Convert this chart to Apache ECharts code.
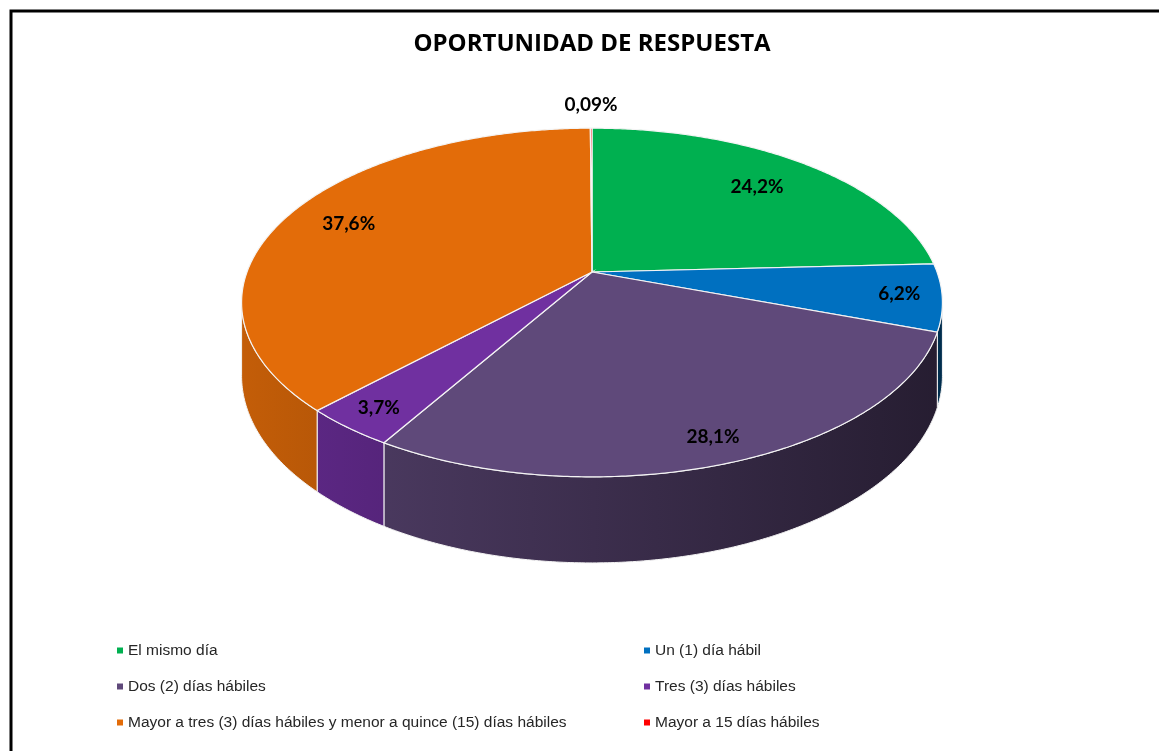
<!DOCTYPE html>
<html>
<head>
<meta charset="utf-8">
<script src="https://cdn.jsdelivr.net/npm/echarts@6/dist/echarts.min.js"></script>
<style>
  html, body { margin: 0; padding: 0; background: #ffffff; }
  #chart { width: 1159px; height: 751px; }
</style>
</head>
<body>
<div id="chart"></div>
<script>
// ---- Data ----
const categories = [
  'El mismo día',
  'Un (1) día hábil',
  'Dos (2) días hábiles',
  'Tres (3) días hábiles',
  'Mayor a tres (3) días hábiles y menor a quince (15) días hábiles',
  'Mayor a 15 días hábiles'
];
const values = [24.2, 6.2, 28.1, 3.7, 37.6, 0.09];
const colors = ['#00b050', '#0070c0', '#5f497a', '#7030a0', '#e36c09', '#ff0000'];
const titleText = 'OPORTUNIDAD DE RESPUESTA';

// ---- Layout (3D pie projection) ----
const CX = 592, CY = 272;      // apex of the pie top face
const KX = 345, KY = 169;      // horizontal / vertical radius scale
const PERSP = 0.175;           // perspective depth factor
const WALL = 71;               // side wall height
const labelRadius = [0.76, 0.88, 0.885, 0.89, 0.8, 1.2];
const FONT = 'Lato, "Liberation Sans", sans-serif';

const total = values.reduce((a, b) => a + b, 0);
const starts = values.map((v, i) => values.slice(0, i).reduce((a, b) => a + b, 0));

function proj(deg, r) {
  const t = deg * Math.PI / 180;
  const d = 1 + PERSP * r * Math.cos(t);
  return [CX + KX * r * Math.sin(t) / d, CY - KY * r * Math.cos(t) / d];
}
function wallDrop(deg) {
  const t = deg * Math.PI / 180;
  return WALL / (1 + PERSP * Math.cos(t));
}
function shade(hex, f) {
  const n = parseInt(hex.slice(1), 16);
  const r = Math.round(((n >> 16) & 255) * f);
  const g = Math.round(((n >> 8) & 255) * f);
  const b = Math.round((n & 255) * f);
  return 'rgb(' + r + ',' + g + ',' + b + ')';
}
function arc(a1, a2) {
  const pts = [];
  const n = Math.max(2, Math.ceil((a2 - a1) / 0.5));
  for (let k = 0; k <= n; k++) pts.push(a1 + (a2 - a1) * k / n);
  return pts;
}
function fmt(v) { return String(v).replace('.', ',') + '%'; }

function renderItem(params, api) {
  const i = params.dataIndex;
  const v = api.value(0);
  const a1 = starts[i] / total * 360;
  const a2 = a1 + v / total * 360;
  const base = colors[i];
  const children = [];

  // side wall (front half visible between silhouettes)
  const sil = Math.acos(-PERSP) * 180 / Math.PI; // ~100 deg
  const w1 = Math.max(a1, sil), w2 = Math.min(a2, 360 - sil);
  if (w2 > w1) {
    const angs = arc(w1, w2);
    const topPts = angs.map(a => proj(a, 1));
    const botPts = angs.map(a => { const p = proj(a, 1); return [p[0], p[1] + wallDrop(a)]; }).reverse();
    children.push({
      type: 'polygon',
      shape: { points: topPts.concat(botPts) },
      style: {
        fill: {
          type: 'linear', x: 245, y: 0, x2: 942, y2: 0, global: true,
          colorStops: [{ offset: 0, color: shade(base, 0.86) }, { offset: 1, color: shade(base, 0.4) }]
        },
        stroke: '#f4f4f4', lineWidth: 1
      },
      z2: 1
    });
  }

  // top face
  const pts = [[CX, CY]].concat(arc(a1, a2).map(a => proj(a, 1)));
  children.push({
    type: 'polygon',
    shape: { points: pts },
    style: { fill: base, stroke: '#f4f4f4', lineWidth: 1.2 },
    z2: 2
  });

  // label
  const mid = (a1 + a2) / 2;
  const lp = proj(mid, labelRadius[i]);
  children.push({
    type: 'text',
    x: lp[0], y: lp[1],
    style: {
      text: fmt(v),
      fill: '#000000',
      font: 'bold 19px ' + FONT,
      align: 'center',
      verticalAlign: 'middle'
    },
    z2: 10
  });
  return { type: 'group', children: children };
}

const chart = echarts.init(document.getElementById('chart'), null, { renderer: 'canvas' });
const legendText = { color: '#262626', fontSize: 15.5, fontFamily: '"Liberation Sans", Arial, sans-serif', lineHeight: 17 };
chart.setOption({
  animation: false,
  backgroundColor: '#ffffff',
  color: colors,
  title: {
    text: titleText,
    left: 587,
    textAlign: 'center',
    top: 27,
    textStyle: { fontSize: 24, fontWeight: 'bold', color: '#000000', fontFamily: '"Open Sans", Lato, sans-serif' }
  },
  graphic: [{
    type: 'rect',
    shape: { x: 11, y: 11, width: 1200, height: 800 },
    style: { fill: 'none', stroke: '#000000', lineWidth: 3 },
    silent: true
  }],
  legend: [
    {
      orient: 'vertical', left: 117, top: 642, padding: 0,
      itemWidth: 6, itemHeight: 6, icon: 'rect', itemGap: 19,
      data: [categories[0], categories[2], categories[4]],
      textStyle: legendText, selectedMode: false
    },
    {
      orient: 'vertical', left: 644, top: 642, padding: 0,
      itemWidth: 6, itemHeight: 6, icon: 'rect', itemGap: 19,
      data: [categories[1], categories[3], categories[5]],
      textStyle: legendText, selectedMode: false
    }
  ],
  series: [
    {
      // legend carrier (not drawn)
      type: 'pie',
      center: [-200, -200],
      radius: [0, 1],
      silent: true,
      label: { show: false },
      labelLine: { show: false },
      data: categories.map((c, i) => ({ name: c, value: values[i], itemStyle: { color: colors[i] } }))
    },
    {
      type: 'custom',
      coordinateSystem: 'none',
      silent: true,
      renderItem: renderItem,
      data: values.map(v => [v])
    }
  ]
});
</script>
</body>
</html>
